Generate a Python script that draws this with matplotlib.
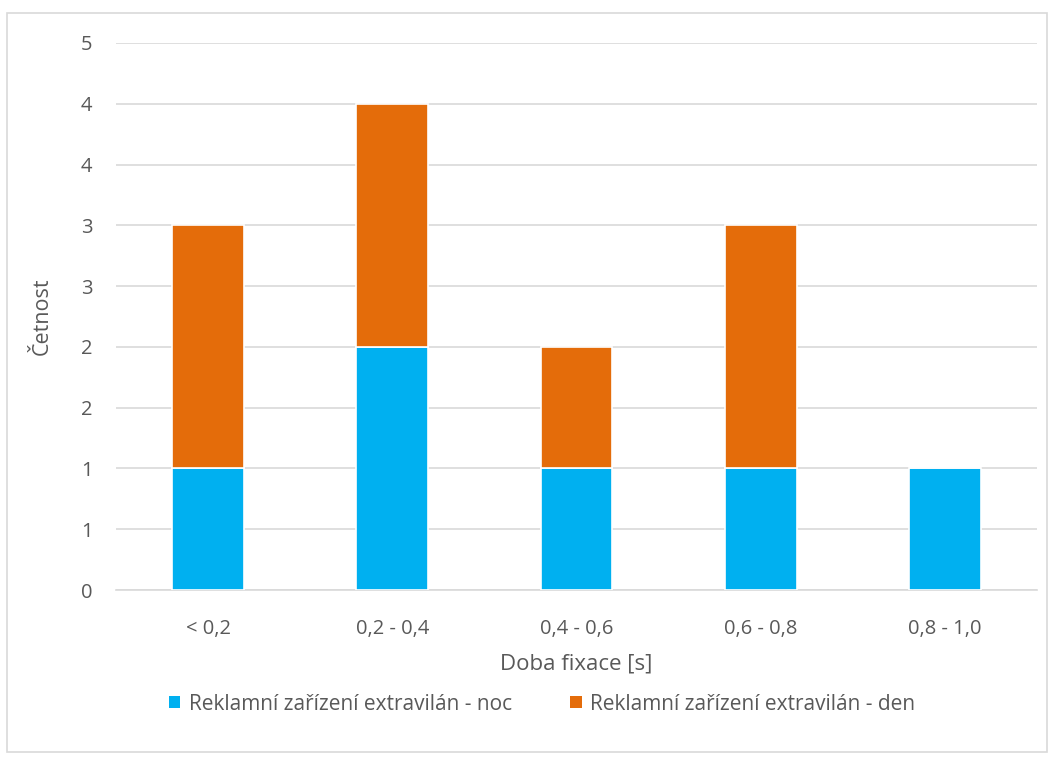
import matplotlib
matplotlib.use("Agg")
import matplotlib.pyplot as plt
from matplotlib.patches import Rectangle
import numpy as np

categories = ["< 0,2", "0,2 - 0,4", "0,4 - 0,6", "0,6 - 0,8", "0,8 - 1,0"]
noc = [1, 2, 1, 1, 1]
den = [2, 2, 1, 2, 0]
series_names = ["Reklamní zařízení extravilán - noc", "Reklamní zařízení extravilán - den"]
yticks = [0, 0.5, 1, 1.5, 2, 2.5, 3, 3.5, 4, 4.5]
ytick_labels = ["0", "1", "1", "2", "2", "3", "3", "4", "4", "5"]

plt.rcParams['font.family'] = ['Open Sans', 'DejaVu Sans']
txt = "#595959"

fig = plt.figure(figsize=(10.55, 7.6), dpi=100)
fig.patches.append(Rectangle((7/1055, 1-752/760), 1040/1055, 739/760, transform=fig.transFigure,
                             fill=False, edgecolor="#D9D9D9", linewidth=1.2))
ax = fig.add_axes([116/1055, 1-590/760, 921/1055, 547/760])

x = np.arange(len(categories))
w = 0.39
b1 = ax.bar(x, noc, w, color="#00B0F0", edgecolor="white", linewidth=1.2, label=series_names[0], zorder=3)
b2 = ax.bar(x, den, w, bottom=noc, color="#E46C0A", edgecolor="white", linewidth=1.2, label=series_names[1], zorder=3)

ax.set_xlim(-0.5, len(categories) - 0.5)
ax.set_ylim(0, 4.5)
ax.set_yticks(yticks)
ax.set_yticklabels(ytick_labels)
ax.set_xticks(x)
ax.set_xticklabels(categories)
ax.grid(axis="y", color="#D9D9D9", linewidth=1.2, zorder=0)
ax.set_axisbelow(True)
for s in ["top", "right", "left"]:
    ax.spines[s].set_visible(False)
ax.spines["bottom"].set_color("#D9D9D9")
ax.spines["bottom"].set_linewidth(1.2)
ax.tick_params(axis="both", length=0, labelsize=14.5, colors=txt)
ax.tick_params(axis="y", pad=17)
ax.tick_params(axis="x", pad=21)
ax.set_ylabel("Četnost", fontsize=15.5, color=txt, labelpad=20)
ax.set_xlabel("Doba fixace [s]", fontsize=16, color=txt, labelpad=10)

handles = [b1, b2]
leg = fig.legend(handles, series_names, loc="center", bbox_to_anchor=(542/1055, 1-704/760), ncol=2,
                 frameon=False, fontsize=15, handlelength=0.55, handleheight=0.55, columnspacing=2.8,
                 handletextpad=0.4, labelcolor=txt)
for p in leg.get_patches():
    p.set_edgecolor("none")

fig.savefig("out.png", dpi=100, facecolor="white")
